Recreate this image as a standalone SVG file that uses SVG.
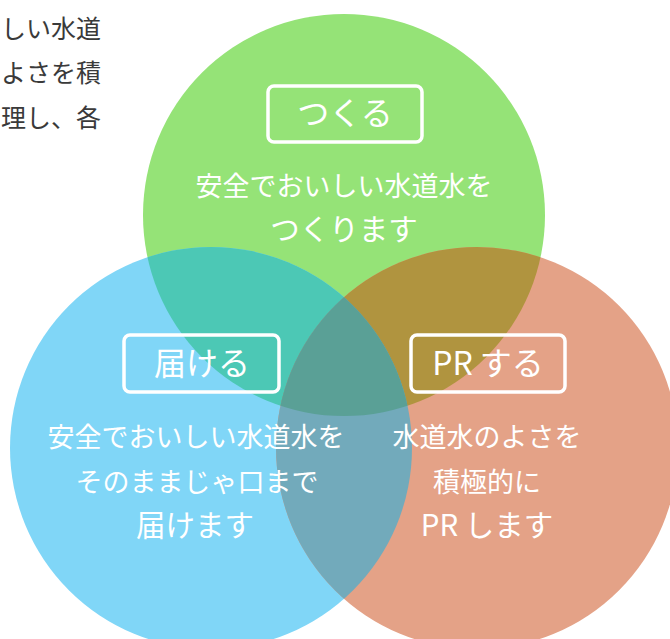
<svg xmlns="http://www.w3.org/2000/svg" width="670" height="639" viewBox="0 0 670 639">
<style>
.lbl{fill:none;stroke:#fff;stroke-width:3.5}
.t{font-family:"Noto Sans CJK JP","Noto Sans",sans-serif;fill:#fff;text-anchor:middle}
.s{font-size:27px}
.b{font-size:29.5px}
.h{font-size:32px}
.top{font-family:"Noto Sans CJK JP","Noto Sans",sans-serif;fill:#3a3a3a;font-size:25px;text-anchor:end}
</style>
<defs>
<clipPath id="cg"><circle cx="344" cy="215" r="201"/></clipPath>
<clipPath id="cb"><circle cx="211" cy="448" r="201"/></clipPath>
</defs>
<rect width="670" height="639" fill="#fff"/>
<g id="intro">
<text class="top" x="101" y="38">しい水道</text>
<text class="top" x="101" y="82">よさを積</text>
<text class="top" x="101" y="127">理し、各</text>
</g>
<g id="circles">
<circle cx="344" cy="215" r="201" fill="#95E377"/>
<circle cx="211" cy="448" r="201" fill="#80D6F7"/>
<circle cx="477" cy="448" r="201" fill="#E4A287"/>
<circle cx="211" cy="448" r="201" fill="#4CC8B5" clip-path="url(#cg)"/>
<circle cx="477" cy="448" r="201" fill="#B0943F" clip-path="url(#cg)"/>
<circle cx="477" cy="448" r="201" fill="#72AABB" clip-path="url(#cb)"/>
<g clip-path="url(#cg)"><circle cx="477" cy="448" r="201" fill="#5AA096" clip-path="url(#cb)"/></g>
</g>
<g id="make">
<rect class="lbl" x="268" y="86" width="154" height="56" rx="6"/>
<text class="t h" x="345" y="125">つくる</text>
<text class="t s" x="344" y="196">安全でおいしい水道水を</text>
<text class="t b" x="344" y="240">つくります</text>
</g>
<g id="deliver">
<rect class="lbl" x="124" y="335" width="155" height="57" rx="6"/>
<text class="t h" x="202" y="375">届ける</text>
<text class="t s" x="196" y="447">安全でおいしい水道水を</text>
<text class="t s" x="197" y="492">そのままじゃ口まで</text>
<text class="t b" x="195" y="536">届けます</text>
</g>
<g id="pr">
<rect class="lbl" x="411" y="335" width="154" height="57" rx="6"/>
<text class="t h" x="488" y="375">PR する</text>
<text class="t s" x="487" y="447">水道水のよさを</text>
<text class="t s" x="487" y="492">積極的に</text>
<text class="t b" x="487" y="536">PR します</text>
</g>
</svg>
